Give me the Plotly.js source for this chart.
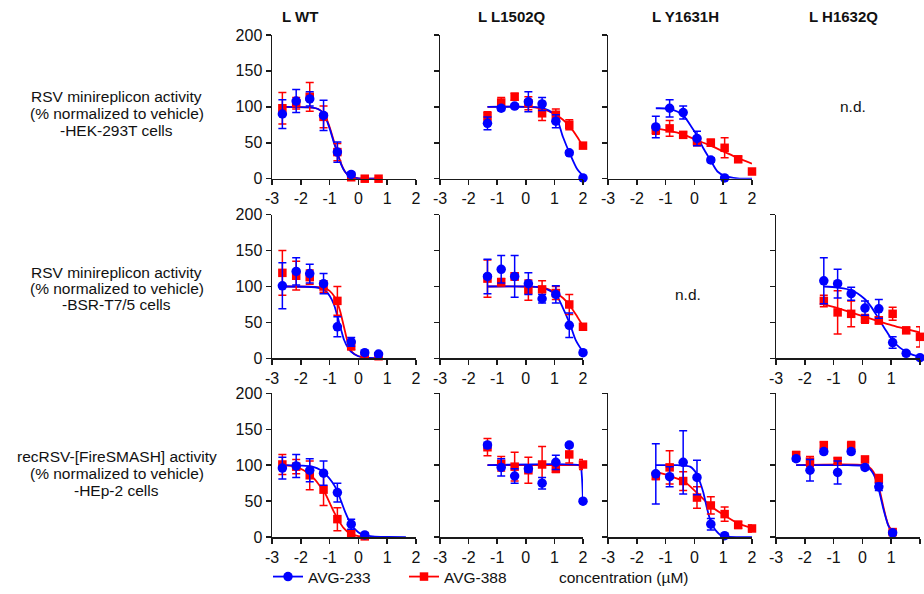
<!DOCTYPE html>
<html>
<head>
<meta charset="utf-8">
<script src="https://cdn.plot.ly/plotly-3.0.1.min.js"></script>
<style>html,body{margin:0;padding:0;background:#fff;}#chart{width:924px;height:594px;}</style>
</head>
<body>
<div id="chart"></div>
<script>
// ---------- data (log10 concentration in µM, % of vehicle) ----------
const xTickVals = [-3, -2, -1, 0, 1, 2];
const xTickText = ["-3", "-2", "-1", "0", "1", "2"];
const yTickVals = [0, 50, 100, 150, 200];
const colTitles = ["L WT", "L L1502Q", "L Y1631H", "L H1632Q"];
const rowTitles = [
  ["RSV minireplicon activity", "(% normalized to vehicle)", "-HEK-293T cells"],
  ["RSV minireplicon activity", "(% normalized to vehicle)", "-BSR-T7/5 cells"],
  ["recRSV-[FireSMASH] activity", "(% normalized to vehicle)", "-HEp-2 cells"]
];
const seriesNames = ["AVG-233", "AVG-388"];

const xWT  = [-2.64, -2.16, -1.69, -1.21, -0.73, -0.25, 0.22, 0.70];
const xMut = [-1.34, -0.86, -0.39, 0.09, 0.57, 1.05, 1.52, 2.0];
const xH3  = [-2.3, -1.82, -1.34, -0.86, -0.39, 0.09, 0.57, 1.05];

// HEK-293T, L WT
const a_blue = [90, 108, 111, 88, 37, 6];
const a_blueErr = [20, 16, 10, 21, 14, 3];
const a_red = [98, 105, 114, 86, 37, 2, 0, 0];
const a_redErr = [22, 8, 20, 15, 12, 2, 1, 1];
const a_blueFitX = [-2.64, -1.6, -1.4, -1.2, -1.0, -0.85, -0.73, -0.6, -0.47, -0.3, 0, 0.7];
const a_blueFitY = [100, 99, 97, 90, 70, 50, 36, 20, 10, 3, 0.5, 0];
const a_redFitX = [-2.64, -1.6, -1.4, -1.2, -1.0, -0.85, -0.73, -0.6, -0.47, -0.3, 0, 0.7];
const a_redFitY = [100, 99, 97, 91, 72, 52, 37, 21, 10, 3, 0.5, 0];

// HEK-293T, L L1502Q
const b_blue = [77, 98, 101, 107, 104, 80, 36, 1];
const b_blueErr = [9, 3, 3, 14, 9, 9, 3, 2];
const b_red = [87, 106, 114, 105, 91, 89, 75, 46];
const b_redErr = [6, 7, 5, 9, 10, 8, 7, 3];
const b_blueFitX = [-1.34, 0, 0.5, 0.8, 1.05, 1.3, 1.55, 1.8, 2.0];
const b_blueFitY = [100, 100, 99, 95, 87, 58, 34, 13, 4];
const b_redFitX = [-1.34, 0, 0.5, 0.8, 1.05, 1.3, 1.55, 1.8, 2.0];
const b_redFitY = [100, 100, 98, 94, 89, 82, 72, 58, 45];

// HEK-293T, L Y1631H
const c_blue = [72, 98, 92, 56, 26, 1];
const c_blueErr = [15, 12, 9, 10, 3, 2];
const c_red = [68, 70, 61, 52, 50, 43, 27, 10];
const c_redErr = [6, 11, 4, 6, 5, 14, 4, 3];
const c_blueFitX = [-1.34, -0.86, -0.39, -0.1, 0.09, 0.3, 0.57, 0.8, 1.05, 1.5, 2.0];
const c_blueFitY = [98, 97, 88, 72, 60, 43, 25, 10, 4, 0.5, 0];
const c_redFitX = [-1.34, -0.5, 0, 0.5, 1.0, 1.5, 2.0];
const c_redFitY = [70, 63, 55, 47, 38, 29, 21];

// BSR-T7/5, L WT
const e_blue = [101, 121, 118, 104, 44, 23, 8, 6];
const e_blueErr = [32, 19, 13, 14, 14, 6, 3, 2];
const e_red = [119, 115, 113, 100, 80, 17, 4, 3];
const e_redErr = [31, 20, 10, 8, 20, 5, 2, 2];
const e_blueFitX = [-2.64, -1.5, -1.2, -1.0, -0.85, -0.73, -0.6, -0.5, -0.35, -0.25, 0, 0.3, 0.7];
const e_blueFitY = [100, 99, 96, 87, 75, 59, 40, 26, 14, 9, 3, 1, 0];
const e_redFitX = [-2.64, -1.5, -1.2, -1.0, -0.8, -0.65, -0.55, -0.45, -0.35, -0.2, 0, 0.3, 0.7];
const e_redFitY = [100, 99.5, 98, 94, 84, 68, 52, 35, 20, 8, 3, 0.5, 0];

// BSR-T7/5, L L1502Q
const f_blue = [114, 124, 114, 104, 83, 89, 46, 8];
const f_blueErr = [24, 19, 29, 15, 6, 12, 17, 3];
const f_red = [111, 106, 114, 95, 96, 91, 75, 44];
const f_redErr = [26, 5, 5, 14, 12, 9, 14, 4];
const f_blueFitX = [-1.34, 0, 0.5, 0.8, 1.05, 1.3, 1.55, 1.75, 2.0];
const f_blueFitY = [100, 100, 99, 95, 89, 70, 47, 25, 9];
const f_redFitX = [-1.34, 0.5, 0.8, 1.05, 1.3, 1.55, 1.8, 2.0];
const f_redFitY = [100, 99, 96, 91, 84, 73, 58, 45];

// BSR-T7/5, L H1632Q
const h_blue = [108, 104, 90, 70, 69, 22, 7, 1];
const h_blueErr = [32, 20, 9, 10, 13, 8, 3, 2];
const h_red = [80, 64, 62, 55, 53, 62, 39, 30];
const h_redErr = [8, 30, 18, 6, 5, 9, 4, 14];
const h_blueFitX = [-1.34, -0.86, -0.39, 0.07, 0.3, 0.54, 0.8, 1.03, 1.3, 1.5, 1.75, 2.0];
const h_blueFitY = [100, 98.5, 95, 83, 72, 57, 40, 26, 15, 10, 5, 3];
const h_redFitX = [-1.34, -0.86, -0.39, 0.07, 0.54, 1.03, 1.5, 2.0];
const h_redFitY = [75, 70, 64, 58, 52, 46, 41, 36];

// HEp-2, L WT
const i_blue = [96, 99, 93, 89, 62, 18, 3];
const i_blueErr = [15, 16, 16, 17, 13, 7, 2];
const i_red = [101, 98, 86, 66, 25, 5, 1];
const i_redErr = [14, 10, 20, 22, 16, 4, 2];
const i_blueFitX = [-2.64, -2.0, -1.6, -1.3, -1.1, -0.9, -0.73, -0.6, -0.45, -0.3, -0.15, 0.1, 0.5, 1.0, 1.65];
const i_blueFitY = [100, 99.5, 98, 93, 86, 76, 64, 50, 34, 21, 12, 4, 1, 0.2, 0];
const i_redFitX = [-2.64, -2.2, -1.9, -1.6, -1.35, -1.2, -1.0, -0.85, -0.7, -0.5, -0.3, 0, 0.22];
const i_redFitY = [100, 98, 93, 84, 72, 64, 48, 35, 24, 12, 5, 1.5, 0.5];

// HEp-2, L L1502Q
const j_blue = [128, 97, 85, 95, 75, 104, 128, 50];
const j_blueErr = [4, 12, 10, 4, 8, 10, 3, 3];
const j_red = [125, 102, 98, 93, 101, 95, 115, 101];
const j_redErr = [12, 10, 20, 18, 25, 5, 12, 7];
const j_blueFitX = [-1.34, 1.85, 1.92, 1.96, 2.0];
const j_blueFitY = [100, 100, 98, 85, 50];
const j_redFitX = [-1.34, 2.0];
const j_redFitY = [100, 100];

// HEp-2, L Y1631H
const k_blue = [88, 84, 104, 83, 18, 2];
const k_blueErr = [42, 14, 44, 24, 8, 2];
const k_red = [85, 97, 78, 55, 44, 32, 17, 12];
const k_redErr = [5, 23, 13, 15, 12, 10, 5, 5];
const k_blueFitX = [-1.34, -0.6, -0.15, 0.08, 0.2, 0.31, 0.42, 0.54, 0.65, 0.77, 0.9, 1.04, 1.5, 2.0];
const k_blueFitY = [100, 100, 98, 88, 76, 62, 43, 25, 15, 8, 3, 1, 0, 0];
const k_redFitX = [-1.34, -0.86, -0.38, 0.08, 0.54, 1.05, 1.52, 2.0];
const k_redFitY = [91, 85, 78, 62, 44, 30, 19, 12.5];

// HEp-2, L H1632Q
const l_blue = [109, 93, 119, 90, 119, 97, 70, 6];
const l_blueErr = [3, 15, 3, 16, 3, 3, 5, 2];
const l_red = [114, 105, 128, 106, 127, 108, 81, 7];
const l_redErr = [5, 7, 4, 4, 6, 4, 6, 2];
const l_blueFitX = [-2.3, -0.5, 0.06, 0.25, 0.38, 0.53, 0.63, 0.73, 0.82, 0.9, 1.05];
const l_blueFitY = [100, 100, 99, 95, 88, 72, 56, 39, 26, 16, 6];
const l_redFitX = [-2.3, 0.06, 0.25, 0.38, 0.53, 0.63, 0.73, 0.82, 0.9, 1.05];
const l_redFitY = [100, 100, 97, 91, 78, 60, 42, 27, 17, 7];

// ---------- build ----------
const W = 924, H = 594;
const BLUE = '#0000ff', RED = '#ff0000';
const colPx = [[272, 416], [440, 583], [608, 752], [776, 920]];
const rowPx = [[35, 179], [215, 359], [394, 538]];

const panels = [
  {r:0,c:0,x:xWT, b:a_blue,be:a_blueErr,rd:a_red,re:a_redErr,bfx:a_blueFitX,bfy:a_blueFitY,rfx:a_redFitX,rfy:a_redFitY},
  {r:0,c:1,x:xMut,b:b_blue,be:b_blueErr,rd:b_red,re:b_redErr,bfx:b_blueFitX,bfy:b_blueFitY,rfx:b_redFitX,rfy:b_redFitY},
  {r:0,c:2,x:xMut,b:c_blue,be:c_blueErr,rd:c_red,re:c_redErr,bfx:c_blueFitX,bfy:c_blueFitY,rfx:c_redFitX,rfy:c_redFitY},
  {r:1,c:0,x:xWT, b:e_blue,be:e_blueErr,rd:e_red,re:e_redErr,bfx:e_blueFitX,bfy:e_blueFitY,rfx:e_redFitX,rfy:e_redFitY},
  {r:1,c:1,x:xMut,b:f_blue,be:f_blueErr,rd:f_red,re:f_redErr,bfx:f_blueFitX,bfy:f_blueFitY,rfx:f_redFitX,rfy:f_redFitY},
  {r:1,c:3,x:xMut,b:h_blue,be:h_blueErr,rd:h_red,re:h_redErr,bfx:h_blueFitX,bfy:h_blueFitY,rfx:h_redFitX,rfy:h_redFitY},
  {r:2,c:0,x:xWT, b:i_blue,be:i_blueErr,rd:i_red,re:i_redErr,bfx:i_blueFitX,bfy:i_blueFitY,rfx:i_redFitX,rfy:i_redFitY},
  {r:2,c:1,x:xMut,b:j_blue,be:j_blueErr,rd:j_red,re:j_redErr,bfx:j_blueFitX,bfy:j_blueFitY,rfx:j_redFitX,rfy:j_redFitY},
  {r:2,c:2,x:xMut,b:k_blue,be:k_blueErr,rd:k_red,re:k_redErr,bfx:k_blueFitX,bfy:k_blueFitY,rfx:k_redFitX,rfy:k_redFitY},
  {r:2,c:3,x:xH3, b:l_blue,be:l_blueErr,rd:l_red,re:l_redErr,bfx:l_blueFitX,bfy:l_blueFitY,rfx:l_redFitX,rfy:l_redFitY}
];

const FONT = 'Arial, "Liberation Sans", sans-serif';
const AX = '#1a1a1a';
const TXT = '#111';
const traces = [];
const layout = {
  width: W, height: H,
  margin: {l: 0, r: 0, t: 0, b: 0},
  paper_bgcolor: '#fff', plot_bgcolor: 'rgba(0,0,0,0)',
  font: {family: FONT, size: 16, color: TXT},
  showlegend: true,
  legend: {orientation: 'h', x: 268 / W, y: 1 - 578 / H, xanchor: 'left', yanchor: 'middle',
           entrywidth: 91, entrywidthmode: 'pixels', font: {size: 15.5, color: TXT}, bgcolor: 'rgba(0,0,0,0)'},
  annotations: [], shapes: []
};

panels.forEach((p, idx) => {
  const n = idx + 1;
  const xa = n === 1 ? 'x' : 'x' + n, ya = n === 1 ? 'y' : 'y' + n;
  const xk = n === 1 ? 'xaxis' : 'xaxis' + n, yk = n === 1 ? 'yaxis' : 'yaxis' + n;
  const cx = colPx[p.c], ry = rowPx[p.r];
  layout[xk] = {domain: [cx[0] / W, cx[1] / W], anchor: ya, range: [-3, 2],
    tickmode: 'array', tickvals: xTickVals, ticktext: xTickText,
    showline: true, linecolor: AX, linewidth: 1.5, ticks: 'outside', ticklen: 5, tickwidth: 1.5, tickcolor: AX,
    showgrid: false, zeroline: false, tickfont: {size: 16, color: TXT}, fixedrange: true};
  layout[yk] = {domain: [1 - ry[1] / H, 1 - ry[0] / H], anchor: xa, range: [0, 200],
    tickmode: 'array', tickvals: yTickVals, showticklabels: p.c === 0,
    showline: true, linecolor: AX, linewidth: 1.5, ticks: 'outside', ticklen: 5, tickwidth: 1.5, tickcolor: AX,
    showgrid: false, zeroline: false, tickfont: {size: 16, color: TXT}, fixedrange: true};
  const common = {xaxis: xa, yaxis: ya, showlegend: false, cliponaxis: false, hoverinfo: 'skip'};
  traces.push(Object.assign({type: 'scatter', mode: 'lines', x: p.rfx, y: p.rfy,
    line: {color: RED, width: 1.8, shape: 'spline', smoothing: 0.8}}, common));
  traces.push(Object.assign({type: 'scatter', mode: 'lines', x: p.bfx, y: p.bfy,
    line: {color: BLUE, width: 1.8, shape: 'spline', smoothing: 0.8}}, common));
  traces.push(Object.assign({type: 'scatter', mode: 'markers', x: p.x.slice(0, p.rd.length), y: p.rd,
    marker: {symbol: 'square', size: 8.5, color: RED},
    error_y: {type: 'data', array: p.re, visible: true, color: RED, thickness: 1.5, width: 4}}, common));
  traces.push(Object.assign({type: 'scatter', mode: 'markers', x: p.x.slice(0, p.b.length), y: p.b,
    marker: {symbol: 'circle', size: 9.5, color: BLUE},
    error_y: {type: 'data', array: p.be, visible: true, color: BLUE, thickness: 1.5, width: 4}}, common));
});

// legend entries
traces.push({type: 'scatter', mode: 'lines+markers', x: [null], y: [null], xaxis: 'x', yaxis: 'y', name: seriesNames[0],
  line: {color: BLUE, width: 1.8}, marker: {symbol: 'circle', size: 9.5, color: BLUE}, showlegend: true});
traces.push({type: 'scatter', mode: 'lines+markers', x: [null], y: [null], xaxis: 'x', yaxis: 'y', name: seriesNames[1],
  line: {color: RED, width: 1.8}, marker: {symbol: 'square', size: 8.5, color: RED}, showlegend: true});

// column titles
const colTitleX = [300, 512, 685, 843];
colTitles.forEach((t, i) => layout.annotations.push({text: '<b>' + t + '</b>', x: colTitleX[i] / W, y: 1 - 17 / H,
  xref: 'paper', yref: 'paper', xanchor: 'center', yanchor: 'middle', showarrow: false, font: {size: 15, color: TXT}}));
// row titles (one annotation per line, tight line spacing as in the original)
const rowTitleY = [[97, 114, 131], [273, 289, 305], [457, 474, 491]];
rowTitles.forEach((lines, i) => lines.forEach((t, k) => layout.annotations.push({text: t, x: 117 / W, y: 1 - rowTitleY[i][k] / H,
  xref: 'paper', yref: 'paper', xanchor: 'center', yanchor: 'middle', align: 'center', showarrow: false,
  font: {size: 15.5, color: TXT}})));
// n.d.
layout.annotations.push({text: 'n.d.', x: 853 / W, y: 1 - 107 / H, xref: 'paper', yref: 'paper', xanchor: 'center', yanchor: 'middle',
  showarrow: false, font: {size: 15.5, color: TXT}});
layout.annotations.push({text: 'n.d.', x: 688 / W, y: 1 - 295 / H, xref: 'paper', yref: 'paper', xanchor: 'center', yanchor: 'middle',
  showarrow: false, font: {size: 15.5, color: TXT}});
// concentration label
layout.annotations.push({text: 'concentration (µM)', x: 557 / W, y: 1 - 578 / H, xref: 'paper', yref: 'paper',
  xanchor: 'left', yanchor: 'middle', showarrow: false, font: {size: 15.5, color: TXT}});

Plotly.newPlot('chart', traces, layout, {displayModeBar: false, staticPlot: true});
</script>
</body>
</html>
